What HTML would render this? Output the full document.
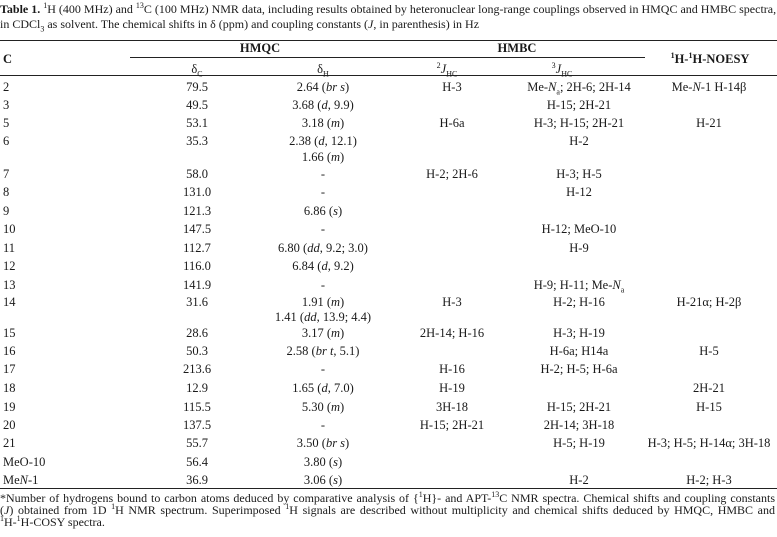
<!DOCTYPE html>
<html><head><meta charset="utf-8"><style>
body{margin:0;width:777px;height:537px;background:#fff;overflow:hidden;font-family:"Liberation Serif",serif;color:#1a1a1a;}
#t{position:relative;width:777px;height:537px;}
.a{position:absolute;white-space:nowrap;font-size:12.5px;line-height:14px;}
.c{text-align:center;width:240px;}
.r{position:absolute;left:0;width:777px;height:1px;background:#222;}
.t{position:absolute;left:0;font-size:12px;line-height:15px;white-space:nowrap;}
.f{position:absolute;left:0;font-size:12px;line-height:12px;white-space:nowrap;}
.j{width:775px;text-align:justify;text-align-last:justify;}
b{font-weight:bold}
sup,sub{font-size:8px;line-height:0}
</style></head><body>
<div id="t">
<div class="t j" style="top:2px"><b>Table 1.</b> <sup>1</sup>H (400 MHz) and <sup>13</sup>C (100 MHz) NMR data, including results obtained by heteronuclear long-range couplings observed in HMQC and HMBC spectra,</div>
<div class="t" style="top:17px">in CDCl<sub>3</sub> as solvent. The chemical shifts in δ (ppm) and coupling constants (<i>J</i>, in parenthesis) in Hz</div>
<div class="r" style="top:40px"></div>
<div class="r" style="top:57px;left:130px;width:515px"></div>
<div class="r" style="top:75px"></div>
<div class="r" style="top:488px"></div>
<div class="a" style="left:3px;top:52px;font-weight:bold">C</div>
<div class="a c" style="left:140px;top:41px;font-weight:bold">HMQC</div>
<div class="a c" style="left:397px;top:41px;font-weight:bold">HMBC</div>
<div class="a c" style="left:590px;top:52px;font-weight:bold"><sup>1</sup>H-<sup>1</sup>H-NOESY</div>
<div class="a c" style="left:77px;top:62px">δ<sub>C</sub></div>
<div class="a c" style="left:203px;top:62px">δ<sub>H</sub></div>
<div class="a c" style="left:327px;top:62px"><sup>2</sup><i>J</i><sub>HC</sub></div>
<div class="a c" style="left:442px;top:62px"><sup>3</sup><i>J</i><sub>HC</sub></div>
<div id="rows"></div>
<div class="f j" style="top:492px">*Number of hydrogens bound to carbon atoms deduced by comparative analysis of {<sup>1</sup>H}- and APT-<sup>13</sup>C NMR spectra. Chemical shifts and coupling constants</div>
<div class="f j" style="top:504px">(<i>J</i>) obtained from 1D <sup>1</sup>H NMR spectrum. Superimposed <sup>1</sup>H signals are described without multiplicity and chemical shifts deduced by HMQC, HMBC and</div>
<div class="f" style="top:516px"><sup>1</sup>H-<sup>1</sup>H-COSY spectra.</div>
</div>
<script>
const rowY=[87,105,123,141,157,174,192,211,229,248,266,285,302,317,333,351,369,388,407,425,443,462,480];
const carbons=["2","3","5","6","","7","8","9","10","11","12","13","14","","15","16","17","18","19","20","21","MeO-10","Me<i>N</i>-1"];
const dC=["79.5","49.5","53.1","35.3","","58.0","131.0","121.3","147.5","112.7","116.0","141.9","31.6","","28.6","50.3","213.6","12.9","115.5","137.5","55.7","56.4","36.9"];
const dH=["2.64 (<i>br s</i>)","3.68 (<i>d</i>, 9.9)","3.18 (<i>m</i>)","2.38 (<i>d</i>, 12.1)","1.66 (<i>m</i>)","-","-","6.86 (<i>s</i>)","-","6.80 (<i>dd</i>, 9.2; 3.0)","6.84 (<i>d</i>, 9.2)","-","1.91 (<i>m</i>)","1.41 (<i>dd</i>, 13.9; 4.4)","3.17 (<i>m</i>)","2.58 (<i>br t</i>, 5.1)","-","1.65 (<i>d</i>, 7.0)","5.30 (<i>m</i>)","-","3.50 (<i>br s</i>)","3.80 (<i>s</i>)","3.06 (<i>s</i>)"];
const j2=["H-3","","H-6a","","","H-2; 2H-6","","","","","","","H-3","","2H-14; H-16","","H-16","H-19","3H-18","H-15; 2H-21","","",""];
const j3=["Me-<i>N</i><sub>a</sub>; 2H-6; 2H-14","H-15; 2H-21","H-3; H-15; 2H-21","H-2","","H-3; H-5","H-12","","H-12; MeO-10","H-9","","H-9; H-11; Me-<i>N</i><sub>a</sub>","H-2; H-16","","H-3; H-19","H-6a; H14a","H-2; H-5; H-6a","","H-15; 2H-21","2H-14; 3H-18","H-5; H-19","","H-2"];
const noesy=["Me-<i>N</i>-1 H-14β","","H-21","","","","","","","","","","H-21α; H-2β","","","H-5","","2H-21","H-15","","H-3; H-5; H-14α; 3H-18","","H-2; H-3"];
const rows=document.getElementById('rows');
function cell(html,x,y,center,name){
  const d=document.createElement('div');
  d.className=center?'a c':'a';
  d.style.left=(center?x-120:x)+'px';
  d.style.top=(y-7)+'px';
  d.innerHTML=html;
  
  
  rows.appendChild(d);
}
rowY.forEach((y,i)=>{
  if(carbons[i])cell(carbons[i],3,y,false,'carbon-label');
  if(dC[i])cell(dC[i],197,y,true,'delta-c-value');
  if(dH[i])cell(dH[i],323,y,true,'delta-h-value');
  if(j2[i])cell(j2[i],452,y,true,'hmbc-2j-value');
  if(j3[i])cell(j3[i],579,y,true,'hmbc-3j-value');
  if(noesy[i])cell(noesy[i],709,y,true,'noesy-value');
});
</script>
</body></html>
